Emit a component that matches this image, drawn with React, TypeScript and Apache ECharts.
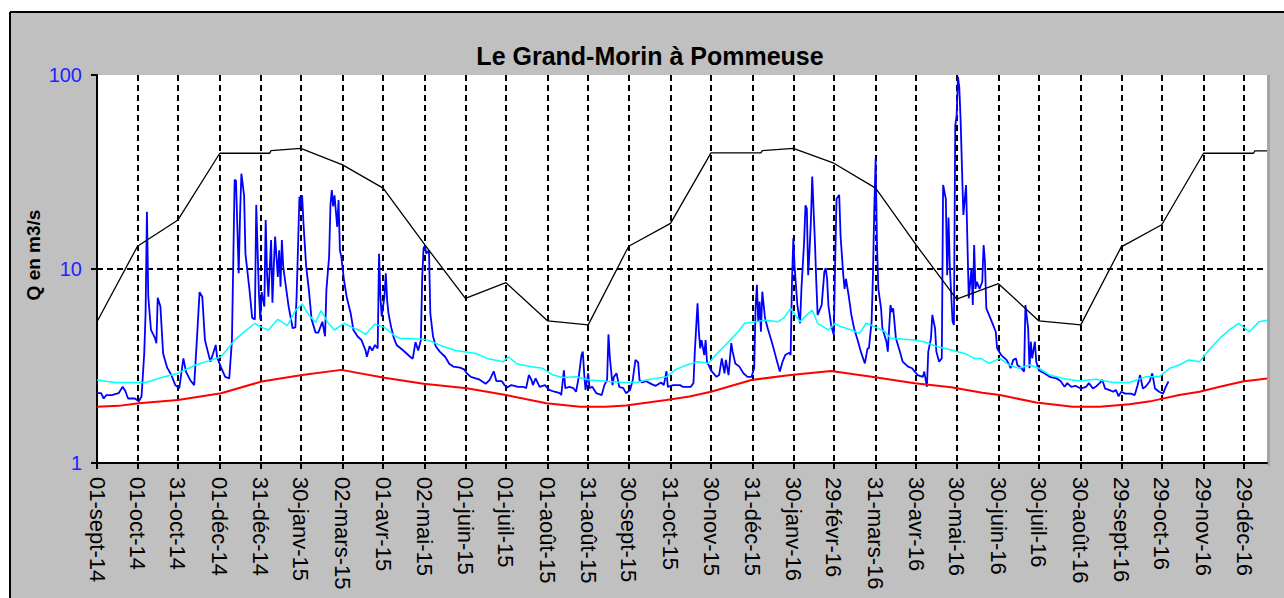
import React, { useEffect, useRef } from 'react';
import * as echarts from 'echarts';

const FONT = "'Liberation Sans', Arial, Helvetica, sans-serif";

const MONTHS_FR = ['janv', 'févr', 'mars', 'avr', 'mai', 'juin', 'juil', 'août', 'sept', 'oct', 'nov', 'déc'];
const START_DATE = Date.UTC(2014, 8, 1);
const N_DAYS = 868;

const TICK_LABELS = [
  '01-sept-14', '01-oct-14', '31-oct-14', '01-déc-14', '31-déc-14', '30-janv-15', '02-mars-15',
  '01-avr-15', '02-mai-15', '01-juin-15', '01-juil-15', '01-août-15', '31-août-15', '30-sept-15',
  '31-oct-15', '30-nov-15', '31-déc-15', '30-janv-16', '29-févr-16', '31-mars-16', '30-avr-16',
  '30-mai-16', '30-juin-16', '30-juil-16', '30-août-16', '29-sept-16', '29-oct-16', '29-nov-16',
  '29-déc-16',
];

const Y_TICKS = [1, 10, 100];

// Daily discharge (day index from 01-sept-14, m3/s)
const DEBIT_JOURNALIER: [number, number][] = [
  [0, 2.29], [3, 2.29], [5, 2.15], [7, 2.24], [11, 2.24], [16, 2.29], [19, 2.47], [21, 2.35], [23, 2.15], [28, 2.15],
  [31, 2.08], [33, 2.2], [35, 3.67], [36, 5.9], [37, 19.7], [38, 7.2], [40, 4.85], [43, 4.4], [44, 4.14], [45, 7.1],
  [47, 6.4], [49, 3.67], [52, 3.1], [55, 2.85], [58, 2.52], [61, 2.43], [64, 3.46], [66, 2.95], [69, 2.68], [72, 2.52],
  [74, 4.3], [76, 7.6], [78, 7.2], [80, 4.3], [84, 3.33], [86, 3.67], [88, 4.06], [89, 3.5], [92, 3.1], [95, 2.78],
  [98, 2.73], [100, 4.3], [102, 28.8], [103, 28.5], [105, 9.5], [106, 19.0], [107, 31], [109, 24], [110, 12], [113, 7.8],
  [115, 5.6], [117, 5.5], [118, 21.4], [120, 7.5], [121, 5.5], [122, 7.6], [124, 6.4], [125, 17.9], [126, 9.5], [127, 7.2],
  [129, 14.1], [130, 6.7], [131, 10.3], [132, 14.7], [134, 9.1], [135, 12.5], [136, 8.1], [137, 14.1], [138, 10.3], [140, 8.1],
  [142, 6.4], [145, 4.95], [147, 5.0], [148, 7.5], [150, 23.6], [151, 21], [152, 24], [153, 17.2], [155, 10.3], [157, 7.8],
  [159, 5.5], [162, 4.7], [164, 4.7], [167, 5.35], [169, 4.5], [170, 7.8], [172, 11.6], [173, 21.4], [174, 25.5], [175, 21],
  [176, 24], [178, 16.5], [179, 22.7], [180, 12.5], [181, 11.6], [183, 8.8], [185, 7.2], [188, 5.9], [190, 4.85], [193, 4.5],
  [196, 4.3], [199, 3.8], [200, 3.53], [202, 4.0], [204, 3.8], [206, 4.06], [208, 3.9], [209, 12], [210, 7.2], [211, 5.7],
  [213, 7.2], [214, 9.5], [215, 6.9], [216, 5.9], [218, 5.0], [220, 4.4], [222, 4.06], [227, 3.8], [232, 3.53], [234, 3.45],
  [236, 4.2], [238, 3.8], [240, 4.3], [241, 9.1], [242, 12.8], [243, 13.2], [244, 12.0], [246, 12.5], [247, 5.9], [249, 4.5],
  [251, 4.0], [254, 3.75], [258, 3.53], [261, 3.25], [264, 3.14], [269, 3.1], [272, 3.04], [274, 2.9], [277, 2.78], [283, 2.7],
  [288, 2.56], [291, 2.68], [294, 2.97], [296, 2.64], [300, 2.64], [302, 2.52], [304, 2.45], [307, 2.52], [312, 2.47], [316, 2.47],
  [318, 2.43], [320, 2.84], [322, 2.68], [323, 2.52], [325, 2.73], [328, 2.47], [332, 2.52], [335, 2.38], [339, 2.33], [343, 2.29],
  [344, 2.24], [346, 3.0], [347, 2.43], [350, 2.47], [353, 2.43], [355, 2.33], [357, 2.78], [359, 3.6], [360, 3.75], [361, 2.9],
  [362, 2.38], [364, 2.9], [365, 2.43], [367, 2.47], [370, 2.29], [374, 2.24], [376, 2.52], [378, 2.68], [379, 4.6], [380, 3.53],
  [382, 2.52], [383, 2.78], [385, 2.9], [387, 2.47], [390, 2.43], [392, 2.29], [395, 2.38], [397, 2.68], [399, 3.4], [401, 3.3],
  [402, 2.68], [404, 2.6], [407, 2.64], [411, 2.55], [414, 2.5], [418, 2.6], [420, 2.52], [422, 2.97], [423, 2.47], [427, 2.52],
  [432, 2.52], [434, 2.47], [438, 2.47], [440, 2.47], [442, 2.58], [443, 3.75], [445, 6.65], [446, 4.75], [447, 3.9], [448, 4.3],
  [450, 3.6], [451, 4.3], [452, 3.33], [455, 3.0], [459, 2.78], [461, 2.84], [463, 3.46], [465, 2.9], [466, 3.4], [468, 2.84],
  [470, 4.15], [471, 3.75], [473, 3.26], [476, 3.14], [479, 2.9], [482, 2.78], [485, 2.78], [487, 3.08], [488, 6.27], [489, 8.3],
  [490, 5.35], [491, 6.8], [492, 4.75], [493, 7.64], [495, 5.6], [497, 4.95], [500, 4.22], [502, 3.75], [504, 3.33], [506, 2.96],
  [508, 3.33], [510, 3.6], [513, 3.7], [514, 3.6], [515, 8.6], [516, 14.4], [517, 10.1], [519, 6.52], [521, 5.25], [522, 7.9],
  [524, 13.8], [525, 21.3], [526, 20.5], [527, 9.3], [528, 12.4], [529, 17.6], [530, 30], [532, 13.8], [533, 8.6], [534, 5.8],
  [537, 6.52], [539, 9.7], [540, 10.1], [541, 8.9], [542, 6.5], [544, 5.15], [546, 4.57], [547, 10.9], [548, 23], [550, 24.1],
  [551, 14.8], [553, 9.3], [554, 7.9], [555, 8.9], [557, 7.3], [559, 5.8], [561, 4.95], [564, 4.22], [566, 3.75], [569, 3.26],
  [571, 3.9], [572, 3.9], [574, 5.35], [575, 9.3], [576, 20.5], [577, 37.2], [578, 13.3], [579, 7.9], [581, 6.27], [582, 4.95],
  [585, 4.22], [586, 3.75], [588, 6.52], [589, 6.0], [590, 6.27], [592, 4.4], [595, 3.75], [597, 3.33], [601, 3.14], [604, 3.08],
  [606, 2.96], [608, 2.84], [612, 2.78], [613, 2.96], [615, 2.47], [616, 3.75], [618, 4.4], [619, 5.8], [621, 4.95], [622, 3.75],
  [624, 3.33], [626, 3.46], [627, 27.1], [629, 23], [630, 9.3], [631, 18.4], [632, 10.1], [634, 5.35], [635, 5.15], [636, 55],
  [637, 61.5], [638, 98], [639, 86], [640, 57.5], [641, 32.6], [642, 19], [644, 27.1], [645, 13.8], [646, 7.06], [648, 10.1],
  [649, 6.52], [650, 13.3], [651, 7.9], [652, 8.6], [654, 7.9], [656, 8.6], [657, 13.3], [658, 10.9], [659, 6.27], [661, 5.8],
  [664, 5.15], [666, 4.75], [667, 3.9], [670, 3.6], [674, 3.4], [676, 3.2], [677, 3.08], [679, 3.4], [681, 3.46], [682, 3.2],
  [685, 3.08], [687, 2.96], [688, 6.52], [690, 4.95], [691, 3.08], [692, 4.22], [693, 3.46], [695, 4.22], [696, 3.33], [698, 3.0],
  [702, 2.9], [706, 2.78], [711, 2.73], [714, 2.65], [717, 2.47], [719, 2.58], [722, 2.47], [725, 2.5], [729, 2.42], [733, 2.47],
  [735, 2.58], [738, 2.42], [740, 2.47], [743, 2.58], [745, 2.68], [747, 2.42], [750, 2.38], [753, 2.33], [755, 2.38], [757, 2.21],
  [759, 2.33], [762, 2.28], [766, 2.28], [769, 2.24], [771, 2.5], [773, 2.84], [775, 2.42], [777, 2.47], [780, 2.63], [782, 2.9],
  [784, 2.42], [787, 2.33], [790, 2.28], [792, 2.47], [794, 2.63],
];

// Mean daily discharge (cyan)
const MOYENNE: [number, number][] = [
  [0, 2.68], [13, 2.6], [36, 2.6], [48, 2.76], [60, 2.9], [73, 3.2], [85, 3.4], [92, 3.53], [102, 4.3], [110, 4.8],
  [117, 5.25], [122, 5.0], [127, 4.85], [134, 5.5], [141, 5.1], [147, 6.1], [152, 6.6], [157, 5.8], [162, 5.3], [166, 6.1],
  [171, 5.3], [176, 4.85], [183, 5.25], [189, 5.0], [194, 4.85], [199, 4.6], [206, 5.2], [213, 5.0], [221, 4.5], [224, 4.4],
  [242, 4.35], [249, 4.2], [256, 4.0], [266, 3.8], [281, 3.67], [289, 3.46], [301, 3.33], [305, 3.53], [311, 3.25], [321, 3.14],
  [330, 3.08], [338, 2.84], [345, 2.76], [355, 2.78], [365, 2.68], [377, 2.64], [390, 2.6], [400, 2.6], [407, 2.68], [414, 2.73],
  [422, 2.78], [429, 3.04], [437, 3.2], [445, 3.33], [453, 3.27], [460, 3.7], [468, 4.22], [475, 4.75], [480, 5.25], [489, 5.35],
  [495, 5.45], [505, 5.35], [509, 5.6], [514, 6.27], [521, 5.35], [526, 5.8], [530, 6.15], [534, 5.25], [542, 4.85], [547, 5.25],
  [551, 5.05], [559, 4.85], [565, 4.66], [570, 5.25], [576, 5.05], [584, 4.75], [588, 4.4], [606, 4.3], [613, 4.22], [623, 3.97],
  [633, 3.82], [643, 3.67], [650, 3.46], [655, 3.46], [661, 3.26], [669, 3.46], [676, 3.2], [683, 3.08], [691, 3.2], [698, 3.08],
  [706, 2.84], [716, 2.73], [728, 2.65], [740, 2.7], [753, 2.6], [765, 2.6], [777, 2.78], [787, 2.78], [795, 3.08], [802, 3.2],
  [809, 3.4], [817, 3.33], [824, 3.82], [832, 4.4], [839, 4.85], [846, 5.25], [854, 4.75], [861, 5.35], [867, 5.45],
];

// Low-flow reference (red)
const MINIMUM: [number, number][] = [
  [0, 1.95], [16, 1.97], [31, 2.03], [60, 2.11], [92, 2.29], [122, 2.63], [152, 2.84], [181, 3.02], [213, 2.75], [242, 2.56],
  [274, 2.43], [303, 2.24], [333, 2.03], [358, 1.95], [377, 1.95], [392, 1.98], [422, 2.11], [439, 2.2], [455, 2.33], [485, 2.68],
  [514, 2.84], [544, 2.98], [574, 2.78], [606, 2.58], [633, 2.46], [656, 2.3], [669, 2.24], [696, 2.05], [723, 1.95], [743, 1.95],
  [765, 2.01], [782, 2.09], [802, 2.24], [817, 2.33], [832, 2.47], [849, 2.63], [867, 2.73],
];

// Seasonal high-flow reference (black)
const MAXIMUM: [number, number][] = [
  [0, 5.35], [30, 13.1], [60, 17.9], [91, 39.5], [128, 39.5], [129, 40.8], [151, 41.9], [182, 34.4], [212, 26.1], [243, 13.3],
  [273, 7.06], [303, 8.5], [334, 5.4], [364, 5.15], [394, 13.1], [425, 17.2], [455, 39.7], [492, 39.7], [493, 40.8], [516, 41.9],
  [546, 35.1], [577, 26.1], [607, 13.3], [637, 7.0], [668, 8.4], [698, 5.4], [729, 5.15], [759, 13.0], [789, 16.9], [820, 39.5],
  [857, 39.5], [858, 40.6], [867, 40.6],
];

const pad = (n: number) => (n < 10 ? '0' + n : '' + n);
const CATEGORIES: string[] = [];
for (let i = 0; i < N_DAYS; i++) {
  const d = new Date(START_DATE + i * 86400000);
  CATEGORIES.push(pad(d.getUTCDate()) + '-' + MONTHS_FR[d.getUTCMonth()] + '-' + pad(d.getUTCFullYear() % 100));
}
const TICK_SET = new Set(TICK_LABELS);
const isTick = (_i: number, v: string) => TICK_SET.has(v);

export default function App() {
  const ref = useRef<HTMLDivElement>(null);
  useEffect(() => {
    if (!ref.current) return;
    const chart = echarts.init(ref.current, null, { renderer: 'svg' });
    const gridDash = { color: '#000', width: 2, type: [6, 4] as number[] };
    chart.setOption({
      animation: false,
      backgroundColor: '#c0c0c0',
      textStyle: { fontFamily: FONT },
      grid: { left: 97, right: 17, top: 75, bottom: 135, show: true, backgroundColor: '#ffffff', borderWidth: 0 },
      xAxis: {
        type: 'category',
        data: CATEGORIES,
        boundaryGap: false,
        axisLine: { lineStyle: { color: '#000', width: 2 } },
        axisTick: { show: true, interval: isTick, length: 6, lineStyle: { color: '#000', width: 2 } },
        axisLabel: { interval: isTick, rotate: -90, margin: 14, color: '#000', fontSize: 22, fontFamily: FONT },
        splitLine: { show: true, interval: isTick, lineStyle: gridDash },
      },
      yAxis: {
        type: 'log',
        logBase: 10,
        min: Y_TICKS[0],
        max: Y_TICKS[Y_TICKS.length - 1],
        interval: 1,
        axisLine: { show: true, lineStyle: { color: '#000', width: 2 } },
        axisTick: { show: true, length: 6, lineStyle: { color: '#000', width: 2 } },
        axisLabel: {
          show: true, interval: 0, hideOverlap: false, showMinLabel: true, showMaxLabel: true,
          color: '#2323ff', fontSize: 20, margin: 15, fontFamily: FONT,
          formatter: (v: number) => String(Math.round(v)),
        },
        splitLine: { show: true, showMinLine: false, showMaxLine: false, lineStyle: gridDash },
        minorTick: { show: false },
      },
      graphic: [
        { type: 'rect', shape: { x: 0, y: 0, width: 1284, height: 12 }, style: { fill: '#ffffff' } },
        { type: 'rect', shape: { x: 0, y: 0, width: 10, height: 598 }, style: { fill: '#ffffff' } },
        { type: 'line', shape: { x1: 10, y1: 12, x2: 1284, y2: 12 }, style: { stroke: '#000', lineWidth: 2 } },
        { type: 'line', shape: { x1: 10, y1: 12, x2: 10, y2: 598 }, style: { stroke: '#000', lineWidth: 2 } },
        { type: 'rect', shape: { x: 1267, y: 75, width: 3, height: 391 }, style: { fill: '#a4a4a4' } },
        {
          type: 'text', x: 650, y: 56, z: 100,
          style: { text: 'Le Grand-Morin à Pommeuse', fontSize: 25, fontWeight: 'bold', fontFamily: FONT, fill: '#000', align: 'center', verticalAlign: 'middle' },
        },
        {
          type: 'text', x: 33, y: 255, rotation: Math.PI / 2, z: 100,
          style: { text: 'Q en m3/s', fontSize: 19, fontWeight: 'bold', fontFamily: FONT, fill: '#000', align: 'center', verticalAlign: 'middle' },
        },
      ],
      series: [
        { name: 'Débit journalier', type: 'line', data: DEBIT_JOURNALIER, showSymbol: false, lineStyle: { color: '#0000ff', width: 1.8 }, itemStyle: { color: '#0000ff' }, z: 2 },
        { name: 'Moyenne', type: 'line', data: MOYENNE, showSymbol: false, lineStyle: { color: '#00ffff', width: 1.5 }, itemStyle: { color: '#00ffff' }, z: 3 },
        { name: 'Minimum', type: 'line', data: MINIMUM, showSymbol: false, lineStyle: { color: '#ff0000', width: 2 }, itemStyle: { color: '#ff0000' }, z: 4 },
        { name: 'Maximum', type: 'line', data: MAXIMUM, showSymbol: false, lineStyle: { color: '#000000', width: 1.3 }, itemStyle: { color: '#000' }, z: 5 },
      ],
    });
    return () => chart.dispose();
  }, []);
  return (
    <div style={{ position: 'fixed', left: 0, top: 0, width: 1284, height: 598, background: '#fff' }}>
      <div ref={ref} style={{ width: 1284, height: 598 }} />
    </div>
  );
}
